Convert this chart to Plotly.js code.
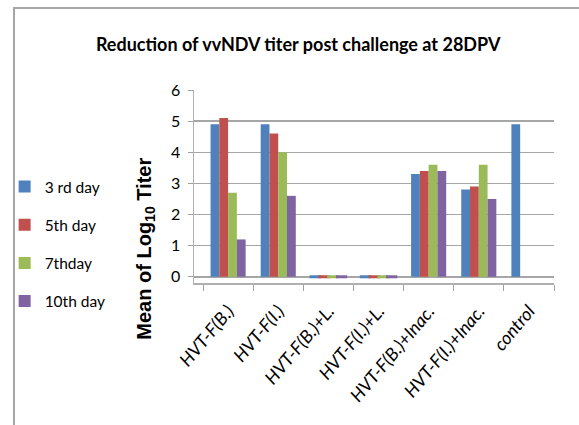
<!DOCTYPE html>
<html><head><meta charset="utf-8">
<script src="https://cdn.plot.ly/plotly-3.0.1.min.js"></script>
<style>
html,body{margin:0;padding:0;background:#fff;}
#frame{position:absolute;left:13px;top:7px;width:566px;height:418px;border-left:2px solid #a6a6a6;border-top:2px solid #a6a6a6;box-sizing:border-box;pointer-events:none;}
#chart{position:absolute;left:0;top:0;width:579px;height:425px;}
</style></head>
<body>
<div id="chart"></div>
<div id="frame"></div>
<script>
const categories = ["HVT-F(B.)","HVT-F(I.)","HVT-F(B.)+L.","HVT-F(I.)+L.","HVT-F(B.)+Inac.","HVT-F(I.)+Inac.","control"];
const seriesNames = ["3 rd day","5th day","7thday","10th day"];
const day3  = [4.9, 4.9, 0, 0, 3.3, 2.8, 4.9];
const day5  = [5.1, 4.6, 0, 0, 3.4, 2.9, null];
const day7  = [2.7, 4.0, 0, 0, 3.6, 3.6, null];
const day10 = [1.2, 2.6, 0, 0, 3.4, 2.5, null];
const colors = ["#4F81BD","#C0504D","#9BBB59","#8064A2"];

const fam = 'Lato, "Liberation Sans", sans-serif';
const all = [day3, day5, day7, day10];
const traces = [];
all.forEach((vals, i) => {
  traces.push({
    type: 'bar', x: categories, y: vals, name: seriesNames[i],
    legendgroup: 'g' + i,
    marker: {color: colors[i], line: {width: 0}},
    hoverinfo: 'x+y+name'
  });
});
// zero values drawn as flat discs on the floor
all.forEach((vals, i) => {
  traces.push({
    type: 'scatter', mode: 'markers', x: categories,
    y: vals.map(v => v === 0 ? 0 : null),
    showlegend: false, legendgroup: 'g' + i,
    marker: {symbol: 'line-ew', size: 8, line: {color: colors[i], width: 3}},
    cliponaxis: false
  });
});

const layout = {
  width: 579, height: 425,
  margin: {l: 194, r: 25, t: 90, b: 142},
  paper_bgcolor: '#fff', plot_bgcolor: '#fff',
  barmode: 'group', bargap: 0.3, bargroupgap: 0,
  scattermode: 'group', scattergap: 0.3,
  title: {text: 'Reduction of vvNDV titer post challenge at 28DPV',
          font: {family: fam, size: 18, color: '#000', weight: 'bold'},
          x: 0.515, xanchor: 'center', y: 0.895, yanchor: 'middle', xref: 'container', yref: 'container'},
  xaxis: {
    type: 'category', range: [-0.68, 6.5], tickangle: -50, showgrid: false,
    ticks: 'outside', tickson: 'boundaries', ticklen: 6, tickcolor: '#a0a0a0', tickwidth: 1,
    showline: true, linecolor: '#b0b0b0', linewidth: 1.5, ticklabelstandoff: 9,
    tickfont: {family: fam, size: 18, color: '#000', style: 'italic'}
  },
  yaxis: {
    range: [-0.2, 6], tickvals: [0,1,2,3,4,5,6], showgrid: true,
    gridcolor: '#a6a6a6', gridwidth: 1.5, zeroline: false,
    showline: true, linecolor: '#b0b0b0', linewidth: 1.5,
    ticks: 'outside', ticklen: 5, tickcolor: '#a0a0a0', ticklabelstandoff: 4,
    tickfont: {family: fam, size: 16, color: '#000'}
  },
  legend: {
    xref: 'container', yref: 'container', x: 0.008, y: 0.6, xanchor: 'left', yanchor: 'top',
    font: {family: fam, size: 15.5, color: '#000'}, itemwidth: 30,
    traceorder: 'grouped', tracegroupgap: 15, bgcolor: 'rgba(0,0,0,0)'
  },
  annotations: [{
    text: 'Mean of Log<sub>10</sub> Titer', textangle: -90,
    xref: 'paper', yref: 'paper', x: -0.135, y: 0.18, showarrow: false,
    xanchor: 'center', yanchor: 'middle',
    font: {family: '"Liberation Sans", Arial, sans-serif', size: 20, color: '#000', weight: 'bold'}
  }]
};
Plotly.newPlot('chart', traces, layout, {displayModeBar: false, staticPlot: true});
</script>
</body></html>
